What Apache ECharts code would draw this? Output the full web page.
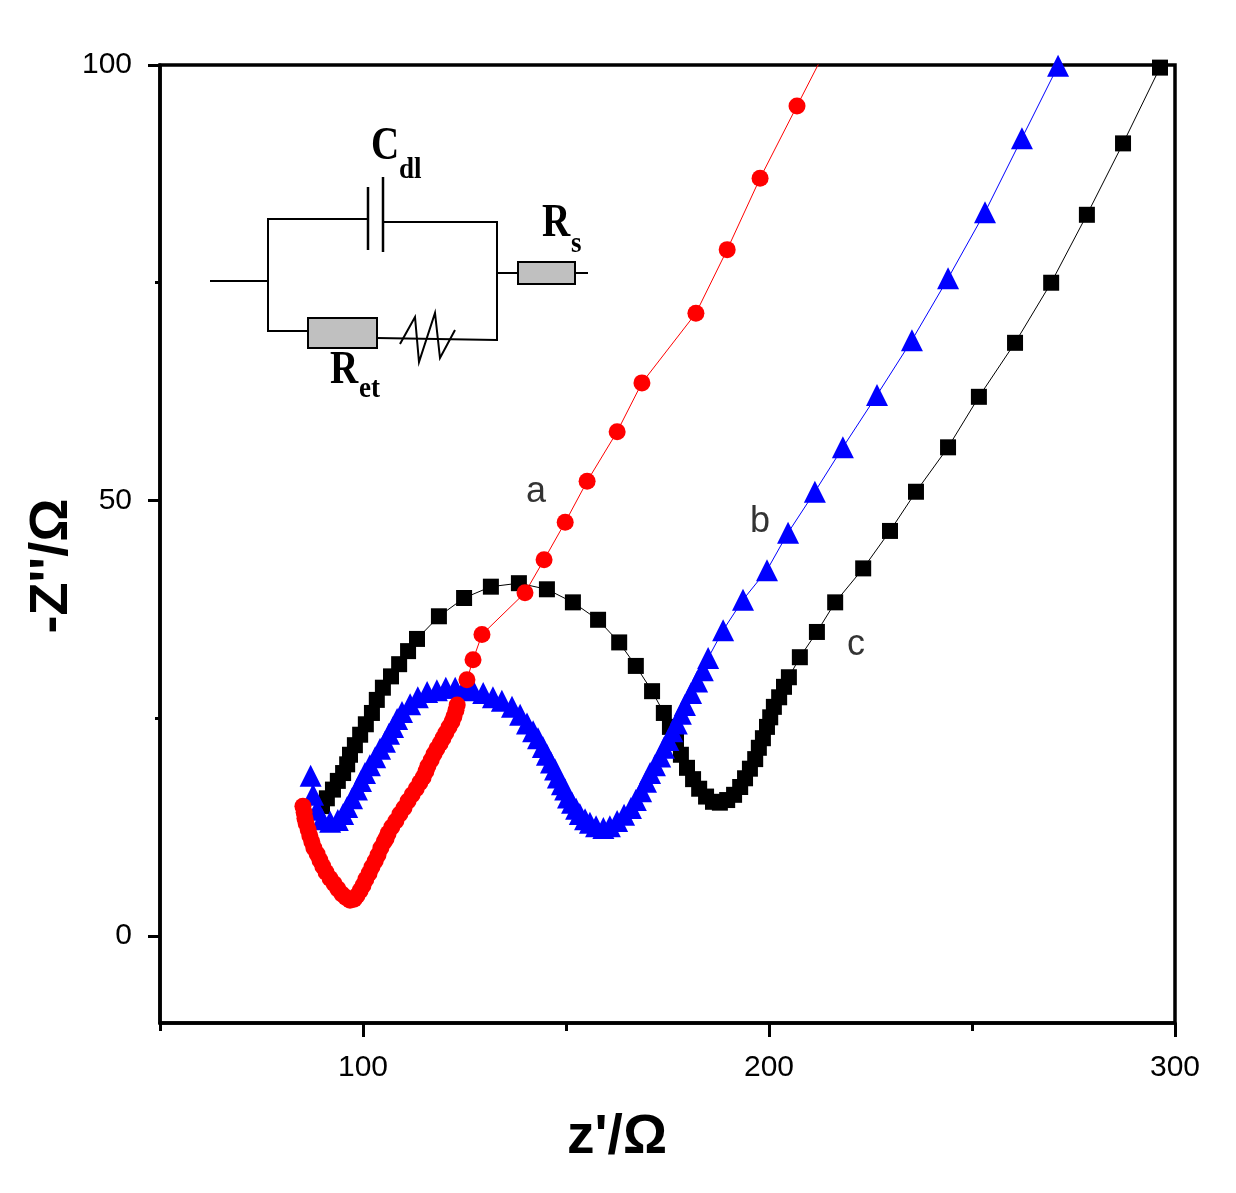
<!DOCTYPE html>
<html>
<head>
<meta charset="utf-8">
<script src="https://cdn.jsdelivr.net/npm/echarts@6/dist/echarts.min.js"></script>
<style>
  html, body { margin: 0; padding: 0; background: #fff; }
  #chart { width: 1236px; height: 1193px; }
</style>
</head>
<body>
<div id="chart"></div>
<script>
// curve a (red circles)
const aX = [85.2, 85.5, 85.7, 86.0, 86.5, 86.9, 87.4, 87.9, 88.7, 89.4, 90.1, 90.9, 91.9, 92.9, 93.8,
  94.8, 95.8, 96.8, 97.8, 98.5, 99.3, 100.0, 100.7, 101.5, 102.2, 103.0, 103.7, 104.4, 105.2, 105.7,
  106.2, 107.1, 108.1, 109.1, 110.1, 111.1, 112.1, 113.1, 114.0, 114.8, 115.5, 116.0, 116.8, 117.5,
  118.2, 119.0, 119.7, 120.4, 121.2, 121.9, 122.4, 122.9, 123.2, 125.6, 127.1, 129.3, 139.9, 144.6,
  149.8, 155.2, 162.6, 168.7, 182.0, 189.7, 197.8, 206.9, 215.8];
const aY = [14.9, 14.2, 13.5, 12.9, 12.2, 11.5, 10.8, 10.1, 9.4, 8.7, 8.0, 7.3, 6.6, 6.0, 5.4,
  4.8, 4.4, 4.1, 4.2, 4.6, 5.2, 5.8, 6.5, 7.2, 7.9, 8.6, 9.3, 10.1, 10.8, 11.2,
  11.8, 12.5, 13.2, 14.0, 14.7, 15.5, 16.2, 16.9, 17.6, 18.2, 18.9, 19.5, 20.2, 20.9,
  21.5, 22.1, 22.7, 23.3, 24.0, 24.6, 25.2, 25.9, 26.5, 29.4, 31.7, 34.6, 39.4, 43.2,
  47.5, 52.2, 57.9, 63.5, 71.5, 78.8, 87.0, 95.3, 103.4];

// curve b (blue triangles)
const bX = [87.1, 87.7, 88.7, 89.9, 91.9, 93.8, 95.1, 96.1, 97.3, 98.5, 99.5, 100.5, 101.7, 103.0,
  104.2, 105.4, 106.4, 107.4, 108.4, 109.6, 111.6, 113.5, 115.8, 118.2, 120.4, 122.7, 124.9, 127.1,
  129.6, 132.0, 134.2, 136.7, 138.7, 140.4, 141.9, 143.1, 144.3, 145.3, 146.3, 147.3, 148.0, 149.0,
  149.8, 150.5, 151.5, 152.5, 153.4, 154.7, 155.9, 157.4, 159.2, 160.8, 162.6, 164.3, 166.0, 167.2,
  168.5, 169.7, 170.7, 171.9, 173.2, 174.1, 175.2, 176.2, 177.3, 178.3, 179.3, 180.8, 182.3, 183.7,
  185.0, 188.7, 193.6, 199.5, 204.7, 211.3, 218.2, 226.6, 235.2, 244.1, 253.2, 262.3, 271.2];
const bY = [18.4, 16.2, 14.5, 13.4, 13.1, 13.3, 14.0, 14.8, 15.8, 16.8, 17.8, 18.7, 19.6, 20.5,
  21.5, 22.3, 23.2, 24.0, 24.9, 25.7, 26.6, 27.4, 28.0, 28.2, 28.5, 28.5, 28.4, 28.2,
  27.9, 27.4, 27.0, 26.3, 25.4, 24.4, 23.5, 22.7, 21.7, 20.8, 19.9, 19.1, 18.2, 17.4,
  16.8, 15.9, 15.3, 14.6, 14.0, 13.4, 13.0, 12.6, 12.4, 12.6, 13.2, 13.9, 14.7, 15.6,
  16.6, 17.7, 18.7, 19.6, 20.6, 21.6, 22.5, 23.5, 24.4, 25.5, 26.5, 27.9, 29.2, 30.5,
  31.9, 35.1, 38.6, 42.0, 46.3, 51.0, 56.1, 62.1, 68.4, 75.5, 83.1, 91.6, 99.9];

// curve c (black squares)
const cX = [89.9, 91.1, 92.6, 93.8, 95.1, 96.1, 96.8, 98.0, 99.3, 100.7, 102.2, 103.4, 104.9, 106.9,
  108.9, 111.1, 113.3, 118.7, 124.9, 131.5, 138.4, 145.3, 151.7, 157.9, 163.1, 167.2, 171.2, 174.1,
  175.6, 177.1, 178.3, 179.8, 181.3, 182.8, 184.5, 186.2, 187.9, 189.7, 191.4, 192.9, 194.1, 195.3,
  196.6, 197.5, 198.5, 199.5, 200.3, 201.2, 202.5, 203.7, 204.9, 207.6, 211.8, 216.3, 223.2, 229.8,
  236.2, 244.1, 251.7, 260.6, 269.5, 278.3, 287.2, 296.3];
const cY = [14.9, 15.8, 16.8, 17.8, 18.7, 19.7, 20.8, 21.9, 23.1, 24.3, 25.6, 27.1, 28.5, 29.8,
  31.2, 32.7, 34.1, 36.7, 38.8, 40.1, 40.5, 39.8, 38.3, 36.3, 33.7, 31.0, 28.1, 25.6,
  24.0, 22.3, 20.8, 19.3, 18.0, 16.9, 16.0, 15.4, 15.3, 15.6, 16.2, 17.1, 18.1, 19.2,
  20.3, 21.6, 22.7, 24.0, 25.1, 26.3, 27.4, 28.6, 29.7, 32.0, 34.9, 38.3, 42.2, 46.5,
  51.0, 56.1, 61.9, 68.1, 75.0, 82.8, 91.0, 99.7];

// curve names written next to the curves
const labelText = ['a', 'b', 'c'];
const labelX = [142.6, 197.8, 221.4];
const labelY = [51.0, 47.5, 33.4];

// ticks
const xMajor = [100, 200, 300];
const xMinor = [50, 150, 250];
const yMajor = [0, 50, 100];
const yMinor = [25, 75];

const zip = (xs, ys) => xs.map((x, i) => [x, ys[i]]);

const tickFont = "'Liberation Sans Narrow', 'Liberation Sans', Arial, sans-serif";
const serif = "'Liberation Serif', 'Times New Roman', serif";
const black = '#000';

const line = (x1, y1, x2, y2, w) => ({
    type: 'line',
    shape: { x1: x1, y1: y1, x2: x2, y2: y2 },
    style: { stroke: black, lineWidth: w || 2 }
});
const txt = (x, y, s, size, sx) => ({
    type: 'text', x: x, y: y, scaleX: sx || 1,
    style: {
        text: s, fill: black, font: 'bold ' + size + 'px ' + serif,
        align: 'left', verticalAlign: 'middle', textAlign: 'left', textVerticalAlign: 'middle'
    }
});

var chartDom = document.getElementById('chart');
var myChart = echarts.init(chartDom);

var option = {
    animation: false,
    backgroundColor: '#fff',
    grid: {
        left: 160, right: 61, top: 65, bottom: 170,
        show: true, borderColor: black, borderWidth: 3.5
    },
    xAxis: [
        {
            type: 'value', min: 50, max: 300, position: 'bottom',
            axisLine: { onZero: false, lineStyle: { color: black, width: 3.5 } },
            axisTick: { customValues: xMajor, length: 14, lineStyle: { color: black, width: 3 } },
            axisLabel: { customValues: xMajor, margin: 30, color: black, fontSize: 30, fontFamily: tickFont },
            splitLine: { show: false }
        },
        {
            type: 'value', min: 50, max: 300, position: 'bottom',
            axisLine: { show: false, onZero: false },
            axisTick: { customValues: xMinor, length: 8, lineStyle: { color: black, width: 3 } },
            axisLabel: { show: false },
            splitLine: { show: false }
        }
    ],
    yAxis: [
        {
            type: 'value', min: -10, max: 100, position: 'left',
            axisLine: { show: true, onZero: false, lineStyle: { color: black, width: 3.5 } },
            axisTick: { show: true, customValues: yMajor, length: 12, lineStyle: { color: black, width: 3 } },
            axisLabel: { customValues: yMajor, margin: 28, color: black, fontSize: 30, fontFamily: tickFont },
            splitLine: { show: false }
        },
        {
            type: 'value', min: -10, max: 100, position: 'left',
            axisLine: { show: false, onZero: false },
            axisTick: { show: true, customValues: yMinor, length: 5, lineStyle: { color: black, width: 3 } },
            axisLabel: { show: false },
            splitLine: { show: false }
        }
    ],
    series: [
        {
            name: 'c', type: 'line', data: zip(cX, cY), silent: true,
            symbol: 'rect', symbolSize: 16, showAllSymbol: true,
            lineStyle: { color: black, width: 1 }, itemStyle: { color: black }
        },
        {
            name: 'b', type: 'line', data: zip(bX, bY), silent: true,
            symbol: 'triangle', symbolSize: 22, showAllSymbol: true,
            lineStyle: { color: '#0000ff', width: 1 }, itemStyle: { color: '#0000ff' }
        },
        {
            name: 'a', type: 'line', data: zip(aX, aY), silent: true,
            symbol: 'circle', symbolSize: 17, showAllSymbol: true,
            lineStyle: { color: '#ff0000', width: 1 }, itemStyle: { color: '#ff0000' }
        },
        {
            name: 'labels', type: 'scatter', silent: true, symbolSize: 1,
            itemStyle: { color: 'rgba(0,0,0,0)' },
            data: labelX.map((x, i) => [x, labelY[i], labelText[i]]),
            label: {
                show: true, position: 'inside', formatter: p => p.data[2],
                color: black, fontSize: 36, fontFamily: tickFont
            }
        }
    ],
    graphic: [
        // axis titles
        {
            type: 'text', x: 617, y: 1138,
            style: {
                text: "z'/Ω", fill: black, font: "bold 55px 'Liberation Sans', Arial, sans-serif",
                align: 'center', verticalAlign: 'middle', textAlign: 'center', textVerticalAlign: 'middle'
            }
        },
        {
            type: 'text', x: 52, y: 566, rotation: Math.PI / 2,
            style: {
                text: "-Z''/Ω", fill: black, font: "bold 54px 'Liberation Sans', Arial, sans-serif",
                align: 'center', verticalAlign: 'middle', textAlign: 'center', textVerticalAlign: 'middle'
            }
        },
        // equivalent circuit inset
        line(210, 281, 268, 281),
        line(268, 218, 268, 332),
        line(268, 219, 368, 219),
        line(368, 187, 368, 250, 2.5),
        line(383, 177, 383, 252, 2.5),
        line(383, 222, 497, 222),
        line(497, 221, 497, 341),
        line(497, 273, 518, 273),
        line(575, 273, 588, 273),
        line(268, 331, 308, 331),
        line(377, 338, 497, 340),
        {
            type: 'polyline',
            shape: { points: [[400, 344], [415, 317], [419, 362], [435, 313], [440, 358], [455, 330]] },
            style: { stroke: black, lineWidth: 2, fill: null }
        },
        {
            type: 'rect', shape: { x: 518, y: 262, width: 57, height: 22 },
            style: { fill: '#c0c0c0', stroke: black, lineWidth: 2 }
        },
        {
            type: 'rect', shape: { x: 308, y: 318, width: 69, height: 30 },
            style: { fill: '#c0c0c0', stroke: black, lineWidth: 2 }
        },
        txt(371, 147, 'C', 46, 0.85),
        txt(399, 170, 'dl', 30, 0.9),
        txt(542, 224, 'R', 46, 0.85),
        txt(571, 244, 's', 30, 0.9),
        txt(330, 371, 'R', 46, 0.85),
        txt(359, 389, 'et', 30, 0.9)
    ]
};

option && myChart.setOption(option);
</script>
</body>
</html>
